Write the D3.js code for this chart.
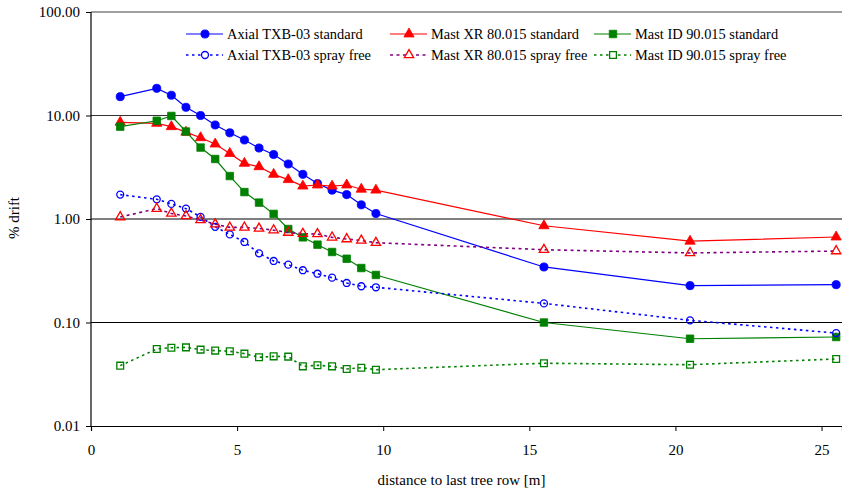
<!DOCTYPE html>
<html>
<head>
<meta charset="utf-8">
<script src="https://cdn.jsdelivr.net/npm/d3@7"></script>
<style>
  body { margin: 0; background: #fff; }
  svg { display: block; font-family: "Liberation Serif", "DejaVu Serif", serif; }
</style>
</head>
<body>
<svg id="chart" width="842" height="490"></svg>
<script>
// distances [m]
const distances = [1, 2.25, 2.75, 3.25, 3.75, 4.25, 4.75, 5.25, 5.75, 6.25, 6.75,
  7.25, 7.75, 8.25, 8.75, 9.25, 9.75, 15.5, 20.5, 25.5];

// % drift per nozzle
const axialStd = [15.2, 18.3, 15.7, 12.0, 10.0, 8.1, 6.8, 5.8, 4.85, 4.2, 3.4,
  2.7, 2.2, 1.9, 1.72, 1.37, 1.13, 0.344, 0.227, 0.232];
const xrStd = [8.6, 8.4, 7.8, 6.9, 6.1, 5.3, 4.3, 3.45, 3.2, 2.7, 2.4,
  2.08, 2.13, 2.08, 2.13, 1.94, 1.9, 0.86, 0.61, 0.67];
const idStd = [7.8, 8.9, 9.9, 7.0, 4.9, 3.8, 2.6, 1.82, 1.44, 1.12, 0.80,
  0.665, 0.565, 0.48, 0.413, 0.336, 0.288, 0.10, 0.0697, 0.0724];
const axialFree = [1.72, 1.55, 1.40, 1.26, 1.05, 0.84, 0.71, 0.60, 0.466, 0.393, 0.362,
  0.32, 0.296, 0.271, 0.241, 0.224, 0.219, 0.153, 0.105, 0.079];
const xrFree = [1.045, 1.26, 1.13, 1.07, 0.98, 0.89, 0.83, 0.83, 0.81, 0.78, 0.74,
  0.72, 0.716, 0.665, 0.64, 0.62, 0.59, 0.505, 0.47, 0.49];
const idFree = [0.0383, 0.0555, 0.0571, 0.0575, 0.0547, 0.0535, 0.0527, 0.050, 0.0461, 0.0471, 0.0468,
  0.0377, 0.0386, 0.0377, 0.0356, 0.0366, 0.035, 0.0404, 0.0391, 0.0444];

const yTicks = [0.01, 0.1, 1, 10, 100];
const xTicks = [0, 5, 10, 15, 20, 25];

const series = [
  { name: 'Axial TXB-03 standard', values: axialStd, line: '#0000ff', mark: '#0000ff', sym: d3.symbolCircle, size: 52, open: false, dash: null },
  { name: 'Mast XR 80.015 standard', values: xrStd, line: '#ff0000', mark: '#ff0000', sym: d3.symbolTriangle, size: 46, open: false, dash: null },
  { name: 'Mast ID 90.015 standard', values: idStd, line: '#008000', mark: '#008000', sym: d3.symbolSquare, size: 56, open: false, dash: null },
  { name: 'Axial TXB-03 spray free', values: axialFree, line: '#0000ff', mark: '#0000ff', sym: d3.symbolCircle, size: 38, open: true, dash: '2.5,3.5' },
  { name: 'Mast XR 80.015 spray free', values: xrFree, line: '#800080', mark: '#ff0000', sym: d3.symbolTriangle, size: 38, open: true, dash: '3,3.5' },
  { name: 'Mast ID 90.015 spray free', values: idFree, line: '#008000', mark: '#008000', sym: d3.symbolSquare, size: 46, open: true, dash: '2.5,3.5' }
];

const svg = d3.select('#chart');
const plotL = 91, plotR = 842, plotT = 12, plotB = 426;

const x = d3.scaleLinear().domain([0, 25.7]).range([plotL, plotR]);
const y = d3.scaleLog().domain([0.01, 100]).range([plotB, plotT]);

// gridlines
svg.append('g')
  .selectAll('line')
  .data(yTicks.slice(1))
  .join('line')
  .attr('x1', plotL).attr('x2', plotR)
  .attr('y1', d => y(d)).attr('y2', d => y(d))
  .attr('stroke', d => d === 100 ? '#808080' : (d === 10 ? '#333' : '#000'))
  .attr('stroke-width', d => d === 100 ? 1.5 : 1);

// axes
const yAxis = svg.append('g')
  .attr('transform', `translate(${plotL},0)`)
  .call(d3.axisLeft(y).tickValues(yTicks).tickFormat(d3.format('.2f')).tickSize(5).tickPadding(6));
const xAxis = svg.append('g')
  .attr('transform', `translate(0,${plotB})`)
  .call(d3.axisBottom(x).tickValues(xTicks).tickSize(5).tickPadding(13));

[yAxis, xAxis].forEach(a => {
  a.attr('font-family', null);
  a.select('.domain').attr('stroke', '#000').attr('stroke-width', 1.2);
  a.selectAll('.tick line').attr('stroke', '#000');
  a.selectAll('text').attr('font-size', 15).attr('fill', '#000');
});
yAxis.select('.domain').attr('d', `M0,${plotB}V${plotT}`);

svg.append('text')
  .attr('x', (plotL + plotR) / 2 - 5).attr('y', 485)
  .attr('text-anchor', 'middle').attr('font-size', 15)
  .text('distance to last tree row [m]');

svg.append('text')
  .attr('transform', 'translate(19,218) rotate(-90)')
  .attr('text-anchor', 'middle').attr('font-size', 15)
  .text('% drift');

// series
const line = d3.line().x((d, i) => x(distances[i])).y(d => y(d));
const plot = svg.append('g');

series.forEach(s => {
  plot.append('path')
    .attr('d', line(s.values))
    .attr('fill', 'none')
    .attr('stroke', s.line)
    .attr('stroke-width', s.dash ? 1.6 : 1.2)
    .attr('stroke-dasharray', s.dash);

  plot.append('g')
    .selectAll('path')
    .data(s.values)
    .join('path')
    .attr('transform', (d, i) => `translate(${x(distances[i])},${y(d)})`)
    .attr('d', d3.symbol().type(s.sym).size(s.size))
    .attr('fill', s.open ? 'none' : s.mark)
    .attr('stroke', s.mark)
    .attr('stroke-width', s.open ? 1.3 : 0.8);
});

// legend
const legendCols = [186, 390, 594];
const legendRows = [34, 55];
series.forEach((s, k) => {
  const col = legendCols[k % 3], row = legendRows[Math.floor(k / 3)];
  const g = svg.append('g').attr('transform', `translate(${col},${row})`);
  g.append('line')
    .attr('x1', 0).attr('x2', 37).attr('y1', 0).attr('y2', 0)
    .attr('stroke', s.line)
    .attr('stroke-width', s.dash ? 1.6 : 1.2)
    .attr('stroke-dasharray', s.dash);
  g.append('path')
    .attr('transform', 'translate(19,0)')
    .attr('d', d3.symbol().type(s.sym).size(s.size))
    .attr('fill', s.open ? '#fff' : s.mark)
    .attr('stroke', s.mark)
    .attr('stroke-width', s.open ? 1.3 : 0.8);
  g.append('text')
    .attr('x', 41).attr('y', 5)
    .attr('font-size', 14.4)
    .text(s.name);
});
</script>
</body>
</html>
